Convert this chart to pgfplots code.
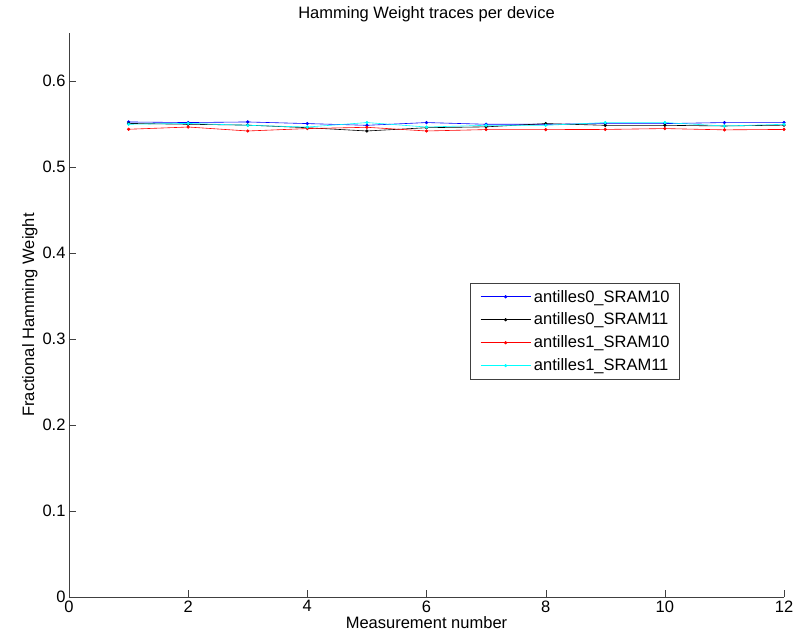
\documentclass[border=0pt]{standalone}
\usepackage{pgfplots}
\pgfplotsset{compat=1.18}
\usepackage{fontspec}
\setmainfont{Liberation Sans}
\definecolor{mblue}{rgb}{0,0,1}
\definecolor{mred}{rgb}{1,0,0}
\definecolor{mcyan}{rgb}{0,1,1}

\pgfplotstableread{
x  a0s10   a0s11   a1s10   a1s11
1  0.5527  0.5510  0.5442  0.5500
2  0.5520  0.5500  0.5468  0.5510
3  0.5527  0.5490  0.5422  0.5488
4  0.5508  0.5460  0.5450  0.5468
5  0.5488  0.5422  0.5465  0.5520
6  0.5520  0.5460  0.5422  0.5468
7  0.5500  0.5470  0.5438  0.5488
8  0.5500  0.5508  0.5438  0.5488
9  0.5508  0.5488  0.5440  0.5520
10 0.5508  0.5488  0.5450  0.5520
11 0.5520  0.5480  0.5435  0.5480
12 0.5520  0.5490  0.5440  0.5500
}\hw

\begin{document}
\begin{tikzpicture}[x=1pt,y=1pt]
\useasboundingbox (-69,-44) rectangle (739,597);
\begin{axis}[
  at={(0,0)}, anchor=south west,
  scale only axis,
  width=715pt, height=564pt,
  xmin=0, xmax=12, ymin=0, ymax=0.6562,
  axis x line*=bottom, axis y line*=left,
  axis line style={-, black!75},
  tick align=inside,
  major tick length=7pt,
  tick style={black!75},
  xtick={0,2,...,12},
  ytick={0,0.1,...,0.6},
  yticklabel style={/pgf/number format/fixed, /pgf/number format/precision=1},
  /pgf/number format/assume math mode=true,
  ticklabel style={font=\fontsize{16.5}{19}\selectfont},
  label style={font=\fontsize{16.5}{19}\selectfont},
  title style={font=\fontsize{16.5}{19}\selectfont, yshift=2pt},
  title={Hamming Weight traces per device},
  xlabel={Measurement number},
  ylabel={Fractional Hamming Weight},
  xlabel style={yshift=3pt},
  ylabel style={yshift=-2pt},
  legend style={at={(0.561,0.557)}, anchor=north west,
    font=\fontsize{16.5}{20}\selectfont, draw=black!75,
    inner xsep=8pt, inner ysep=5pt, row sep=5.5pt,
    nodes={inner sep=2pt}},
  legend cell align=left,
  legend image code/.code={
    \draw[#1, mark=none] (0pt,0pt) -- (50pt,0pt);
    \draw[#1, only marks] plot coordinates {(25pt,0pt)};
    \path (-2pt,0pt) (51pt,0pt);
  },
  every axis plot/.append style={line width=0.6pt, mark=*, mark size=1.3pt},
]
\addplot[mblue] table[x=x, y=a0s10] {\hw};
\addplot[black] table[x=x, y=a0s11] {\hw};
\addplot[mred] table[x=x, y=a1s10] {\hw};
\addplot[mcyan] table[x=x, y=a1s11] {\hw};
\legend{antilles0\_SRAM10\hspace{6pt}, antilles0\_SRAM11, antilles1\_SRAM10, antilles1\_SRAM11}
\end{axis}
\end{tikzpicture}
\end{document}
